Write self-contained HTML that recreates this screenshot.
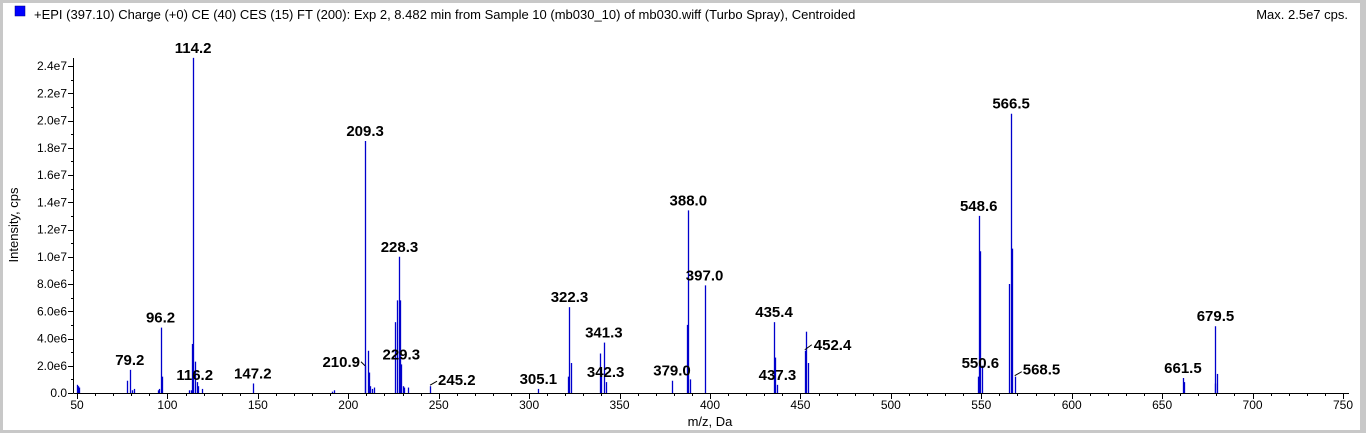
<!DOCTYPE html>
<html><head><meta charset="utf-8"><style>
html,body{margin:0;padding:0;background:#c8c8c8;}
#wrap{position:absolute;left:3px;top:3px;width:1357px;height:427px;background:#fff;}
svg{position:absolute;left:0;top:0;}
text{font-family:"Liberation Sans",Arial,sans-serif;}
</style></head><body>
<div id="wrap"></div>
<svg id="chart" width="1366" height="433">
<rect x="15" y="6" width="10" height="10" fill="#0000ff" stroke="#000080" stroke-width="0.5"/>
<text x="34" y="19" font-size="13" fill="#000">+EPI (397.10) Charge (+0) CE (40) CES (15) FT (200): Exp 2, 8.482 min from Sample 10 (mb030_10) of mb030.wiff (Turbo Spray), Centroided</text>
<text x="1348" y="19" font-size="13" text-anchor="end" fill="#000">Max. 2.5e7 cps.</text>
<text transform="translate(18,225) rotate(-90)" font-size="13" text-anchor="middle">Intensity, cps</text>
<text x="710" y="426" font-size="13" text-anchor="middle">m/z, Da</text>
<g id="axes"></g><g id="peaks"></g><g id="labels"></g>
</svg>
<script>
const mzValues=[50,50.5,51,77.5,79.2,80.5,81.5,95,95.5,96.2,97.2,112,113,113.8,114.2,115.2,116.2,117,119,147.2,191,192,209,209.3,210.9,211.5,212,213,214,226,227,228.3,228.8,229.3,230,231,233,245.2,305.1,321.5,322.3,323,339,340,341.3,342.3,379.0,387.5,388.0,389,397.0,435.4,436,437.3,452.4,453,454,548,548.6,549.3,550.6,565.5,566.5,567.2,568.5,661.5,662.3,679,679.5,680.3];
const intensities=[0.6,0.5,0.4,0.9,1.7,0.2,0.3,0.2,0.3,4.8,1.2,0.2,0.2,3.6,24.6,2.3,0.8,0.5,0.3,0.7,0.1,0.2,2.0,18.5,3.1,1.5,0.5,0.3,0.4,5.2,6.8,10.0,6.8,2.1,0.5,0.4,0.4,0.5,0.3,1.2,6.3,2.2,2.9,1.4,3.7,0.8,0.9,5.0,13.4,1.0,7.9,5.2,2.6,0.6,3.1,4.5,2.2,1.2,13.0,10.4,2.0,8.0,20.5,10.6,1.2,1.1,0.8,0.7,4.9,1.4];
const labelMz=[79.2,96.2,114.2,116.2,147.2,209.3,210.9,228.3,229.3,245.2,305.1,322.3,341.3,342.3,379.0,388.0,397.0,435.4,437.3,452.4,548.6,550.6,566.5,568.5,661.5,679.5];
const xTicks=[50,100,150,200,250,300,350,400,450,500,550,600,650,700,750];
const yTicks=[0,2,4,6,8,10,12,14,16,18,20,22,24];
const yTickLabels=["0.0","2.0e6","4.0e6","6.0e6","8.0e6","1.0e7","1.2e7","1.4e7","1.6e7","1.8e7","2.0e7","2.2e7","2.4e7"];
const X0=77,PX=1266/700,Y0=393,PY=13.625;
const xs=m=>X0+(m-50)*PX, ys=v=>Y0-v*PY;
const NS="http://www.w3.org/2000/svg";
function mk(t,a,p){const e=document.createElementNS(NS,t);for(const k in a)e.setAttribute(k,a[k]);p.appendChild(e);return e;}
const ax=document.getElementById('axes');
let l=mk('line',{x1:73.5,y1:Y0+0.5,x2:1349,y2:Y0+0.5,stroke:'#000'},ax);


l=mk('line',{x1:73.5,y1:58,x2:73.5,y2:Y0+0.5,stroke:'#000'},ax);


for(let m=50;m<=750;m+=10){const x=Math.round(xs(m))+0.5;mk('line',{x1:x,y1:Y0,x2:x,y2:Y0+(m%50==0?6:3),stroke:'#000'},ax);}
xTicks.forEach(m=>{const t=mk('text',{x:xs(m),y:Y0+16,'font-size':12,'text-anchor':'middle'},ax);t.textContent=m;

});
for(let v=0;v<=24.5;v+=1){const y=Math.round(ys(v))+0.5;mk('line',{x1:73,x2:73-(v%2==0?5:2),y1:y,y2:y,stroke:'#000'},ax);}
yTicks.forEach((v,i)=>{const t=mk('text',{x:67,y:ys(v)+4,'font-size':12,'text-anchor':'end'},ax);t.textContent=yTickLabels[i];

});
const pk=document.getElementById('peaks');
mzValues.forEach((m,i)=>{const x=Math.round(xs(m))+0.5;const p=mk('line',{x1:x,x2:x,y1:Y0,y2:ys(intensities[i]),stroke:'#0000cc','stroke-width':1.3},pk);

});
const special={210.9:{a:'end',dx:-8,dy:16,lead:[-3,15,-7,11]},245.2:{a:'start',dx:8,dy:-1,lead:[0,-1,7,-5]},452.4:{a:'start',dx:9,dy:-1,lead:[0,-1,7,-6]},568.5:{a:'start',dx:8,dy:-2,lead:[0,-1,7,-5]},550.6:{a:'middle',dx:-2,dy:2},116.2:{a:'middle',dx:-2,dy:-2}};
const lb=document.getElementById('labels');
labelMz.forEach(m=>{const i=mzValues.indexOf(m);const x=xs(m),y=ys(intensities[i]);const s=special[m]||{a:'middle',dx:0,dy:-5};
if(s.lead)mk('line',{x1:x+s.lead[0],y1:y+s.lead[1],x2:x+s.lead[2],y2:y+s.lead[3],stroke:'#000'},lb);
const t=mk('text',{x:x+s.dx,y:y+s.dy,'font-size':15,'font-weight':'bold','text-anchor':s.a},lb);t.textContent=m.toFixed(1);

});
</script>
</body></html>
